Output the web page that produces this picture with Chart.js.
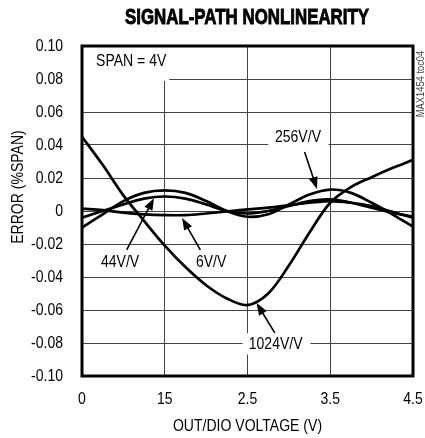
<!DOCTYPE html>
<html><head><meta charset="utf-8">
<script src="https://cdn.jsdelivr.net/npm/chart.js@4.4.1/dist/chart.umd.min.js"></script>
<style>html,body{margin:0;padding:0;background:#fff}canvas{display:block}</style>
</head><body>
<canvas id="c" width="425" height="438"></canvas>
<script>
const FONT = "'Liberation Sans',Arial,sans-serif";
const SX = 0.85; // horizontal condensing of all text (Helvetica Condensed look)
const xTickLabels = ['0','15','2.5','3.5','4.5'];
const yTickLabels = ['0.10','0.08','0.06','0.04','0.02','0','-0.02','-0.04','-0.06','-0.08','-0.10'];
// x positions in grid units (0..4 across the five labelled ticks)
const xPos = [0,0.25,0.5,0.75,1,1.25,1.5,1.75,2,2.25,2.5,2.75,3,3.25,3.5,3.75,4];
const gain1024 = [0.045,0.028,0.0095,-0.006,-0.021,-0.034,-0.045,-0.053,-0.057,-0.050,-0.033,-0.013,0.005,0.0145,0.0205,0.026,0.031];
const gain256  = [-0.010,-0.002,0.006,0.011,0.0125,0.011,0.006,0.000,-0.0035,-0.002,0.004,0.010,0.013,0.011,0.005,-0.002,-0.0095];
const gain44   = [-0.004,0.000,0.004,0.0075,0.0088,0.0075,0.004,0.000,-0.0015,0.000,0.003,0.006,0.007,0.005,0.002,-0.001,-0.0035];
const gain6    = [0.0015,0.0005,-0.001,-0.002,-0.0025,-0.0025,-0.0015,-0.0003,0.001,0.002,0.0035,0.005,0.006,0.005,0.003,-0.0005,-0.004];

const canvas = document.getElementById('c');
const c2d = canvas.getContext('2d');
const nativeFill = c2d.fillText;
c2d.fillText = function(t, x, y, mw){
  this.save(); this.translate(x, y); this.scale(SX, 1);
  if (mw === undefined || mw === null) nativeFill.call(this, t, 0, 0);
  else nativeFill.call(this, t, 0, 0, mw / SX);
  this.restore();
};

const toXY = arr => arr.map((v,i)=>({x:xPos[i],y:v}));
const mk = (label, arr) => ({label, data: toXY(arr), borderColor:'#000', borderWidth:2.7, pointRadius:0, fill:false, tension:0.35});

const annot = {
  id:'annot',
  beforeDatasetsDraw(chart){
    const {ctx, chartArea:a, scales:{x,y}} = chart;
    ctx.save();
    ctx.fillStyle='#fff';
    ctx.fillRect(a.left+1, a.top+1, x.getPixelForValue(1.04)-a.left, y.getPixelForValue(0.0795)-a.top);
    let bx = x.getPixelForValue(2.25), bx2 = x.getPixelForValue(2.98);
    ctx.fillRect(bx, y.getPixelForValue(0.052), bx2-bx, y.getPixelForValue(0.037)-y.getPixelForValue(0.052));
    bx = x.getPixelForValue(1.94); bx2 = x.getPixelForValue(2.76);
    ctx.fillRect(bx, y.getPixelForValue(-0.074), bx2-bx, y.getPixelForValue(-0.087)-y.getPixelForValue(-0.074));
    ctx.restore();
  },
  afterDatasetsDraw(chart){
    const {ctx, chartArea:a, scales:{x,y}} = chart;
    ctx.save();
    ctx.strokeStyle='#000'; ctx.lineWidth=3;
    ctx.strokeRect(a.left, a.top, a.right-a.left, a.bottom-a.top);
    ctx.fillStyle='#000';
    ctx.font = "16.5px " + FONT;
    ctx.textBaseline='middle';
    ctx.textAlign='left';
    ctx.fillText('SPAN = 4V', x.getPixelForValue(0.17), y.getPixelForValue(0.0905));
    ctx.textAlign='center';
    const lbl = (t, vx, vy) => ctx.fillText(t, x.getPixelForValue(vx), y.getPixelForValue(vy));
    lbl('256V/V', 2.61, 0.0448);
    lbl('44V/V', 0.46, -0.031);
    lbl('6V/V', 1.56, -0.031);
    lbl('1024V/V', 2.34, -0.0808);
    const arrow = (x0,y0,x1,y1) => {
      const px0=x.getPixelForValue(x0), py0=y.getPixelForValue(y0), px1=x.getPixelForValue(x1), py1=y.getPixelForValue(y1);
      const ang=Math.atan2(py1-py0, px1-px0), L=12, W=4.5;
      ctx.lineWidth=1.6;
      ctx.beginPath(); ctx.moveTo(px0,py0); ctx.lineTo(px1-Math.cos(ang)*L*0.8, py1-Math.sin(ang)*L*0.8); ctx.stroke();
      ctx.beginPath();
      ctx.moveTo(px1,py1);
      ctx.lineTo(px1-Math.cos(ang)*L - Math.sin(ang)*W, py1-Math.sin(ang)*L + Math.cos(ang)*W);
      ctx.lineTo(px1-Math.cos(ang)*L + Math.sin(ang)*W, py1-Math.sin(ang)*L - Math.cos(ang)*W);
      ctx.closePath(); ctx.fill();
    };
    arrow(2.69,0.0358,2.84,0.0133);
    arrow(0.54,-0.0236,0.87,0.0078);
    arrow(1.43,-0.0236,1.21,-0.0042);
    arrow(2.33,-0.0739,2.11,-0.0558);
    ctx.font = "bold 22px " + FONT;
    ctx.fillText('SIGNAL-PATH NONLINEARITY', 247, 18, 244);
    // thicken title strokes (heavy condensed look)
    ctx.save();
    ctx.translate(247, 18); ctx.scale(SX, 1);
    ctx.lineWidth = 0.9; ctx.strokeStyle = '#000';
    ctx.strokeText('SIGNAL-PATH NONLINEARITY', 0, 0, 244 / SX);
    ctx.restore();
    ctx.font = "16.5px " + FONT;
    ctx.fillText('OUT/DIO VOLTAGE (V)', (a.left+a.right)/2, 426);
    ctx.save();
    ctx.translate(18, 187);
    ctx.rotate(-Math.PI/2);
    ctx.fillText('ERROR (%SPAN)', 0, 0);
    ctx.restore();
    ctx.save();
    ctx.translate(421, 84);
    ctx.rotate(-Math.PI/2);
    ctx.fillStyle='#444';
    ctx.font = "11px " + FONT;
    ctx.fillText('MAX1454 toc04', 0, 0);
    ctx.restore();
    ctx.restore();
  }
};

new Chart(canvas, {
  type:'line',
  data:{ datasets:[mk('1024V/V',gain1024), mk('256V/V',gain256), mk('44V/V',gain44), mk('6V/V',gain6)] },
  options:{
    responsive:false, animation:false, devicePixelRatio:1,
    layout:{padding:{left:0,right:12,top:46,bottom:0}},
    plugins:{legend:{display:false}, tooltip:{enabled:false}},
    scales:{
      x:{type:'linear', min:0, max:4,
        afterFit(s){ s.height = 62; s.paddingLeft = 0; s.paddingRight = 0; },
        ticks:{stepSize:1, padding:14, color:'#000', font:{family:FONT, size:16.5}, maxRotation:0,
          callback:(v,i)=>xTickLabels[i]},
        grid:{color:'#444', lineWidth:1, drawTicks:false}, border:{display:false}},
      y:{type:'linear', min:-0.1, max:0.1,
        afterFit(s){ s.width = 82; s.paddingTop = 0; s.paddingBottom = 0; },
        ticks:{stepSize:0.02, padding:19, color:'#000', font:{family:FONT, size:16.5},
          callback:(v,i,t)=>yTickLabels[t.length-1-i]},
        grid:{color:'#444', lineWidth:1, drawTicks:false}, border:{display:false}}
    }
  },
  plugins:[annot]
});
</script>
</body></html>
